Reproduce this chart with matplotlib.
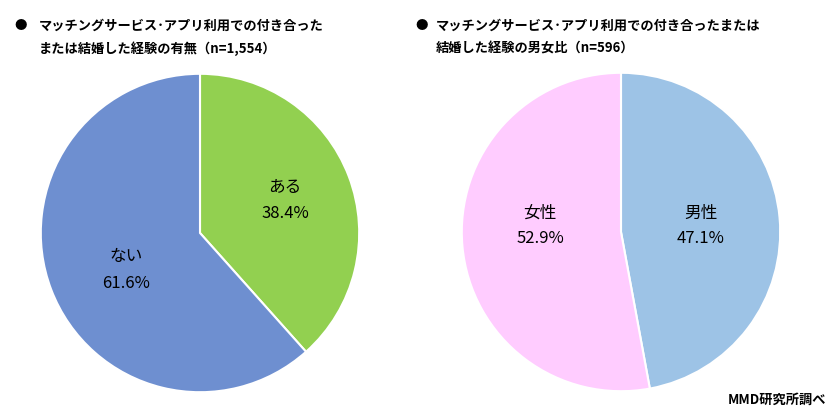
import matplotlib.pyplot as plt

plt.rcParams['font.family'] = ['Noto Sans CJK JP', 'DejaVu Sans']

# left pie: experience
exp_labels = ['ある', 'ない']
exp_values = [38.4, 61.6]
exp_colors = ['#92D050', '#6E8FD0']

# right pie: gender ratio
sex_labels = ['男性', '女性']
sex_values = [47.1, 52.9]
sex_colors = ['#9DC3E6', '#FFCCFF']

W, H = 837, 416
fig = plt.figure(figsize=(W / 100, H / 100), dpi=100)


def pie_axes(cx, cy, r):
    return fig.add_axes([(cx - r) / W, (H - cy - r) / H, 2 * r / W, 2 * r / H])


def draw_pie(ax, values, colors):
    ax.pie(values, colors=colors, startangle=90, counterclock=False,
           radius=1, wedgeprops=dict(edgecolor='white', linewidth=1.5))
    ax.set_xlim(-1.005, 1.005)
    ax.set_ylim(-1.005, 1.005)
    ax.axis('off')


ax1 = pie_axes(200, 233, 160)
draw_pie(ax1, exp_values, exp_colors)
ax2 = pie_axes(621, 232, 160)
draw_pie(ax2, sex_values, sex_colors)

# slice labels (pixel positions)
label_pos1 = [(285, 188), (126, 257)]
label_pos2 = [(701, 213), (540, 213)]
for pos, lab, val in zip(label_pos1 + label_pos2, exp_labels + sex_labels, exp_values + sex_values):
    fig.text(pos[0] / W, 1 - pos[1] / H, lab, ha='center', va='center', fontsize=12)
    fig.text(pos[0] / W, 1 - (pos[1] + 26) / H, f'{val:.1f}%', ha='center', va='center', fontsize=12)

# titles
title1 = ['マッチングサービス･アプリ利用での付き合った', 'または結婚した経験の有無（n=1,554）']
title2 = ['マッチングサービス･アプリ利用での付き合ったまたは', '結婚した経験の男女比（n=596）']
fig.text(14 / W, 1 - 26 / H, '●', ha='left', va='center', fontsize=9)
fig.text(415 / W, 1 - 26 / H, '●', ha='left', va='center', fontsize=9)
for i, line in enumerate(title1):
    fig.text(39 / W, 1 - (26 + 23 * i) / H, line, ha='left', va='center',
             fontsize=9.5, fontweight='bold')
for i, line in enumerate(title2):
    fig.text(436 / W, 1 - (26 + 23 * i) / H, line, ha='left', va='center',
             fontsize=9.5, fontweight='bold')

fig.text(826 / W, 1 - 400 / H, 'MMD研究所調べ', ha='right', va='center',
         fontsize=9.5, fontweight='bold')

fig.savefig('out.png', dpi=100, facecolor='white')
